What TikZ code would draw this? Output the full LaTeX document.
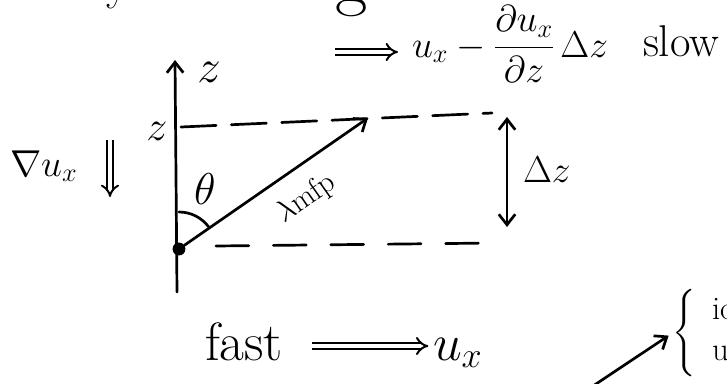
\RequirePackage{fix-cm}
\documentclass[tikz,border=0pt]{standalone}
\usepackage{amsmath}
\usetikzlibrary{arrows.meta}
\newcommand\setfs[1]{\fontsize{#1}{#1}\selectfont}
\begin{document}
\begin{tikzpicture}[x=0.03cm,y=-0.03cm,
  pen/.style={line width=2.3pt, line cap=round},
  barb/.style={-{Straight Barb[length=9pt,width=14pt]}},
  bothbarb/.style={{Straight Barb[length=9pt,width=14pt]}-{Straight Barb[length=9pt,width=14pt]}},
  implies/.style={double, double distance=3.5pt, line width=1.7pt, -{Implies}},
  txt/.style={inner sep=0pt, outer sep=0pt},
  dashtop/.style={pen, dash pattern=on 30pt off 13pt},
  dashbot/.style={pen, dash pattern=on 28pt off 21pt},
]
\fill[white] (0,0) rectangle (727,383);
\useasboundingbox (0,0) rectangle (727,383);

% fragments of the line above
\node[txt,font={\setfs{40}},anchor=base] (fragy) at (118,-1) {y};
\node[txt,font={\setfs{60}},anchor=base] (fragg) at (352,2) {g};

% axis
\coordinate (axbot) at (177,292);
\coordinate (axtop) at (175,60);
\draw[pen,barb] (axbot) -- (axtop);
\node[txt,font={\setfs{40}},anchor=base] (zlab) at (209,82) {$z$};
\node[txt,font={\setfs{36}},anchor=base] (zmark) at (157,140) {$z$};

% dashed levels
\coordinate (ztick) at (181,127);
\coordinate (topend) at (492,113);
\draw[dashtop] (ztick) -- (topend);
\coordinate (botstart) at (216,246);
\coordinate (botend) at (495,243);
\draw[dashbot] (botstart) -- (botend);

% dot and mean free path
\node[circle, fill, inner sep=0pt, minimum size=11pt] (dot) at (179,249) {};
\coordinate (ltip) at (368,118);
\draw[pen,barb] (dot) -- (ltip);
\draw[pen] (dot.center) ++(0,-37) arc[start angle=-90,end angle=-37,radius=37];
\node[txt,font={\setfs{38}}] (theta) at (205,189) {$\theta$};
\node[txt,font={\setfs{26}},rotate=35] (lmfp) at (306,199) {$\lambda$mfp};

% Delta z
\coordinate (dzt) at (507,117);
\coordinate (dzb) at (507,227);
\draw[pen,bothbarb] (dzb) -- (dzt);
\node[txt,font={\setfs{32}},anchor=base west] (dzlab) at (523,182) {$\Delta z$};

% gradient
\node[txt,font={\setfs{32}},anchor=base west] (gradu) at (10,176) {$\nabla u_x$};
\coordinate (gt) at (110,140);
\coordinate (gb) at (110,197);
\draw[implies] (gt) -- (gb);

% top formula
\node[txt,font={\setfs{32}},anchor=base west] (topeq) at (412,57) {$u_x - \dfrac{\partial u_x}{\partial z}\,\Delta z$};
\node[txt,font={\setfs{38}},anchor=base west] (slow) at (643,56) {slow};
\coordinate (timp) at (335,52);
\draw[implies,shorten >=12pt] (timp) -- (timp -| topeq.west);

% bottom formula
\node[txt,font={\setfs{46}},anchor=base west] (fast) at (205,360) {fast};
\node[txt,font={\setfs{44}},anchor=base west] (ux) at (433,360) {$u_x$};
\coordinate (bimp) at (312,346);
\draw[implies,shorten >=4pt] (bimp) -- (bimp -| ux.west);

% bottom right
\node[txt,font={\setfs{24}}] (brace) at (685,333) {$\left\{\vrule height 31pt depth 31pt width 0pt\right.$};
\coordinate (atail) at (593,386);
\draw[pen,barb,shorten >=4pt] (atail) -- (brace.west);
\node[txt,font={\setfs{28}},anchor=west] (io) at (712,309) {io};
\node[txt,font={\setfs{28}},anchor=west] (uu) at (712,353) {u};
\end{tikzpicture}
\end{document}
